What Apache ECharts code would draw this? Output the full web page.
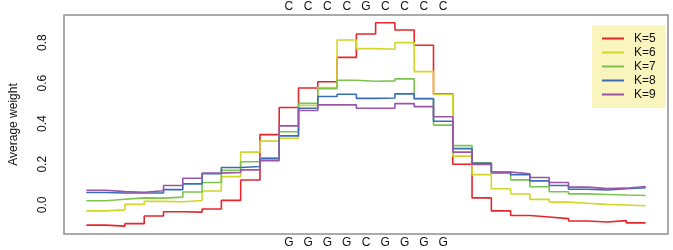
<!DOCTYPE html>
<html>
<head>
<meta charset="utf-8">
<script src="https://cdn.jsdelivr.net/npm/echarts@6/dist/echarts.min.js"></script>
<style>
html,body{margin:0;padding:0;background:#fff;}
#chart{width:673px;height:250px;}
</style>
</head>
<body>
<div id="chart"></div>
<script>
// Positions 1..29 (one step per position)
const positions = Array.from({length: 29}, (_, i) => i + 1);
const topLetters = ['C','C','C','C','G','C','C','C','C'];
const bottomLetters = ['G','G','G','G','C','G','G','G','G'];
const letterPositions = [11,12,13,14,15,16,17,18,19];
const yTicks = [0, 0.2, 0.4, 0.6, 0.8];

const seriesNames = ['K=5','K=6','K=7','K=8','K=9'];
const k5 = [-0.100,-0.105,-0.093,-0.055,-0.034,-0.036,-0.021,0.022,0.122,0.346,0.480,0.576,0.607,0.727,0.842,0.898,0.862,0.787,0.547,0.200,0.034,-0.030,-0.053,-0.060,-0.068,-0.080,-0.085,-0.078,-0.089];
const k6 = [-0.030,-0.025,0.002,0.017,0.015,0.021,0.068,0.139,0.260,0.314,0.328,0.490,0.578,0.813,0.770,0.767,0.800,0.657,0.545,0.240,0.149,0.079,0.053,0.027,0.013,0.008,0.002,-0.001,-0.005];
const k7 = [0.020,0.027,0.034,0.033,0.038,0.063,0.110,0.170,0.212,0.232,0.360,0.500,0.573,0.614,0.609,0.611,0.621,0.522,0.393,0.292,0.207,0.156,0.123,0.089,0.064,0.054,0.051,0.048,0.046];
const k8 = [0.061,0.058,0.058,0.058,0.075,0.103,0.153,0.184,0.189,0.227,0.340,0.476,0.534,0.545,0.525,0.527,0.547,0.524,0.412,0.277,0.205,0.160,0.148,0.118,0.095,0.077,0.073,0.079,0.084];
const k9 = [0.072,0.065,0.062,0.069,0.095,0.131,0.156,0.159,0.172,0.218,0.389,0.465,0.493,0.493,0.476,0.476,0.499,0.484,0.434,0.260,0.199,0.161,0.153,0.135,0.110,0.087,0.080,0.082,0.090];
const allValues = [k5, k6, k7, k8, k9];
const colors = ['#e6262b','#d2d62a','#7cc44e','#3a6db5','#9b55a8'];

// each position occupies [p-0.5, p+0.5]
function stepData(vals) {
  const pts = positions.map((p, i) => [p - 0.5, vals[i]]);
  pts.push([positions[positions.length - 1] + 0.5, vals[vals.length - 1]]);
  return pts;
}

const xMin = 0.5 - 1.16, xMax = 29.5 + 1.16;
const font = "'Liberation Sans', Arial, sans-serif";

const chart = echarts.init(document.getElementById('chart'), null, {renderer: 'canvas'});
chart.setOption({
  animation: false,
  textStyle: {fontFamily: font},
  grid: {left: 59, right: 5, top: 15, bottom: 16, show: true, borderColor: '#8f8f8f', borderWidth: 1.5, backgroundColor: 'transparent'},
  legend: {
    data: seriesNames,
    orient: 'vertical',
    left: 592, top: 25,
    padding: [7, 10, 7, 10],
    backgroundColor: '#faf4bf',
    itemGap: 1,
    itemWidth: 22, itemHeight: 2,
    icon: 'rect',
    textStyle: {fontFamily: font, fontSize: 12, color: '#111', lineHeight: 13, padding: [0, 0, 0, 5]}
  },
  xAxis: [
    {type: 'value', position: 'bottom', min: xMin, max: xMax,
      axisLine: {show: false}, axisTick: {show: false}, splitLine: {show: false},
      axisLabel: {customValues: letterPositions, formatter: v => bottomLetters[letterPositions.indexOf(Math.round(v))] || '', color: '#111', fontSize: 12, margin: 3, fontFamily: font}},
    {type: 'value', position: 'top', min: xMin, max: xMax,
      axisLine: {show: false}, axisTick: {show: false}, splitLine: {show: false},
      axisLabel: {customValues: letterPositions, formatter: v => topLetters[letterPositions.indexOf(Math.round(v))] || '', color: '#111', fontSize: 12, margin: 2, fontFamily: font}}
  ],
  yAxis: {
    type: 'value', min: -0.144, max: 0.936,
    name: 'Average weight', nameLocation: 'middle', nameGap: 44,
    nameTextStyle: {fontSize: 12, color: '#111', fontFamily: font},
    axisLine: {show: false}, axisTick: {show: false}, splitLine: {show: false},
    axisLabel: {customValues: yTicks, rotate: 90, formatter: v => v.toFixed(1), color: '#111', fontSize: 12, margin: 15, fontFamily: font}
  },
  series: allValues.map((vals, i) => ({
    name: seriesNames[i],
    type: 'line',
    step: 'end',
    xAxisIndex: 0,
    symbol: 'none',
    data: stepData(vals),
    lineStyle: {color: colors[i], width: 1.6},
    itemStyle: {color: colors[i]},
    z: 2 + i
  }))
});
</script>
</body>
</html>
